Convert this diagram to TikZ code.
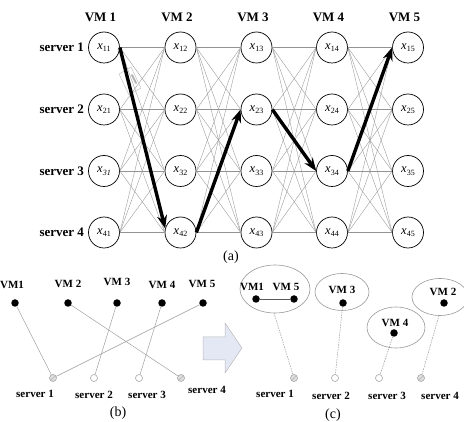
\documentclass[tikz,border=0pt]{standalone}
\usepackage{fontspec}
\setmainfont{Liberation Serif}
\usetikzlibrary{arrows.meta}
\definecolor{arrowfill}{HTML}{E4E8F4}
\newcommand\xs[1]{\textit{x}\raisebox{-2.5pt}{\fontsize{8}{8}\selectfont #1}}
\tikzset{
  vmnode/.style={circle, draw, line width=0.7pt, minimum size=31pt, inner sep=0pt, font=\fontsize{12.5}{12.5}\selectfont},
  lab/.style={font=\bfseries\fontsize{13}{13}\selectfont},
  slab/.style={font=\bfseries\fontsize{11}{11}\selectfont},
  capt/.style={font=\fontsize{14}{14}\selectfont},
  mesh/.style={draw=gray!85, line width=0.35pt},
  big/.style={line width=3.4pt, -{Stealth[length=13pt,width=10pt]}},
  dot/.style={circle, fill=black, inner sep=0pt, minimum size=7.5pt},
  srv/.style={circle, draw=gray!80, line width=0.5pt, fill=white, inner sep=0pt, minimum size=7pt},
  srvh/.style={srv, fill=gray!25},
  thinl/.style={draw=gray!80, line width=0.45pt},
  dotl/.style={draw=gray!80, line width=0.5pt, dash pattern=on 1.5pt off 1pt},
  grp/.style={draw=gray!80, line width=0.6pt}
}
\begin{document}
\begin{tikzpicture}[x=1pt, y=-1pt]
\useasboundingbox (0,0) rectangle (464,422);
% ---------- (a) ----------
\foreach \c/\x in {1/104,2/180.5,3/256.5,4/332,5/408}{
  \node[lab] (vm\c) at (\x-3.5,17) {VM \c};
  \foreach \r/\y in {1/47.5,2/109.5,3/171,4/232.5}{
    \ifnum\r\c=31
      \node[vmnode] (n\r\c) at (\x,\y) {\xs{\itshape 31}};
    \else
      \node[vmnode] (n\r\c) at (\x,\y) {\xs{\r\c}};
    \fi
  }
}
\foreach \r/\y in {1/47.5,2/109.5,3/171,4/232.5}
  \node[lab, anchor=east] (sv\r) at (87.5,\y) {server \r};
\foreach \c [evaluate=\c as \cc using int(\c+1)] in {1,...,4}
  \foreach \i in {1,...,4}
    \foreach \j in {1,...,4}
      \draw[mesh] (n\i\c.east) -- (n\j\cc.west);
% small box
\draw[draw=gray!55, line width=0.4pt] (119,74) -- (131,67) -- (141,88) -- (129,95) -- cycle;
\draw[draw=gray!60, line width=2pt, line cap=round] (132,75) -- (136,83);
\draw[big] (n11.east) -- (n42.165);
\draw[big] (n42.east) -- (n23.west);
\draw[big] (n23.east) -- (n34.west);
\draw[big] (n34.east) -- (n15.west);
\node[capt] (capa) at (231,257) {(a)};
% ---------- (b) ----------
\node[slab] (bl1) at (12,285) {VM1};
\node[slab] (bl2) at (68,284) {VM 2};
\node[slab] (bl3) at (117,282) {VM 3};
\node[slab] (bl4) at (162,285) {VM 4};
\node[slab] (bl5) at (202,284) {VM 5};
\node[dot] (b1) at (15,303) {};
\node[dot] (b2) at (68,303) {};
\node[dot] (b3) at (117,303) {};
\node[dot] (b4) at (162,303) {};
\node[dot] (b5) at (203,303) {};
\node[srvh] (bs1) at (53,378) {};
\node[srv] (bs2) at (94,378) {};
\node[srv] (bs3) at (139,378) {};
\node[srvh] (bs4) at (181,378) {};
\draw[thinl] (b1) -- (bs1);
\draw[thinl] (b5) -- (bs1);
\draw[thinl] (b3) -- (bs2);
\draw[thinl] (b4) -- (bs3);
\draw[thinl] (b2) -- (bs4);
\draw[gray!60, line width=0.4pt] (bs1.south west) -- (bs1.north east);
\draw[gray!60, line width=0.4pt] (bs4.south west) -- (bs4.north east);
\node[slab] (bt1) at (35,394) {server 1};
\node[slab] (bt2) at (94,395) {server 2};
\node[slab] (bt3) at (147,395) {server 3};
\node[slab] (bt4) at (207,390) {server 4};
\node[capt] (capb) at (118,413) {(b)};
% block arrow
\draw[fill=arrowfill, draw=gray!55, line width=0.5pt]
  (203,337) -- (225,337) -- (225,323) -- (242,348) -- (225,373) -- (225,360) -- (203,360) -- cycle;
% ---------- (c) ----------
\draw[grp] (275,289) ellipse [x radius=35, y radius=24];
\draw[grp] (342,292) ellipse [x radius=27, y radius=18.5];
\draw[grp] (396,327.5) ellipse [x radius=29, y radius=20.5];
\draw[grp] (440,297) ellipse [x radius=28, y radius=18.5];
\coordinate (e1) at (274,313);
\coordinate (e4) at (439,315.5);
\node[slab] (cl1) at (252,287) {VM1};
\node[slab] (cl5) at (286,287) {VM 5};
\node[slab] (cl3) at (342,290) {VM 3};
\node[slab] (cl4) at (395,323) {VM 4};
\node[slab] (cl2) at (443,292) {VM 2};
\node[dot] (c1) at (256,299) {};
\node[dot] (c5) at (294,299) {};
\node[dot] (c3) at (343,303) {};
\node[dot] (c4) at (394,333) {};
\node[dot] (c2) at (444,303) {};
\draw[gray!70!black, line width=0.45pt] (c1) -- (c5);
\node[srvh] (cs1) at (294,378) {};
\node[srv] (cs2) at (335,378) {};
\node[srv] (cs3) at (379,378) {};
\node[srvh] (cs4) at (421,378) {};
\draw[gray!60, line width=0.4pt] (cs1.south west) -- (cs1.north east);
\draw[gray!60, line width=0.4pt] (cs4.south west) -- (cs4.north east);
\draw[dotl] (e1) -- (cs1);
\draw[dotl] (c3) -- (cs2);
\draw[dotl] (c4) -- (cs3);
\draw[dotl] (e4) -- (cs4);
\node[slab] (ct1) at (275,394) {server 1};
\node[slab] (ct2) at (331,396) {server 2};
\node[slab] (ct3) at (387,396) {server 3};
\node[slab] (ct4) at (440,396) {server 4};
\node[capt] (capc) at (333,415) {(c)};
\end{tikzpicture}
\end{document}
